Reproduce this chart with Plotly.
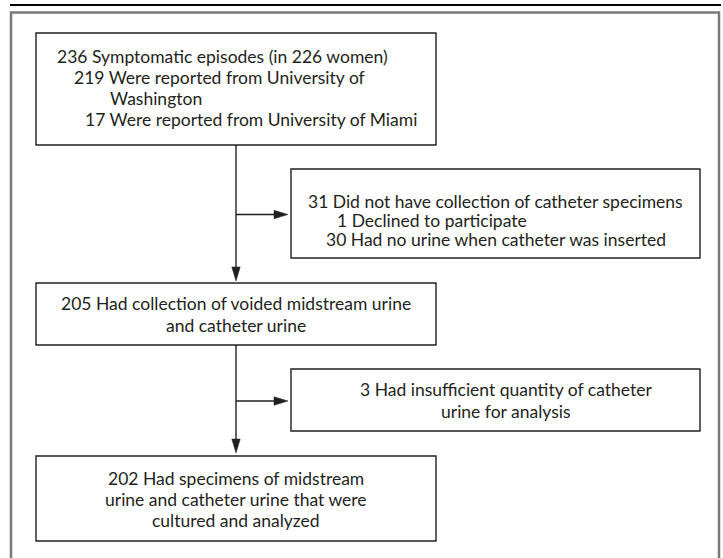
import plotly.graph_objects as go

# ---- data (texts of the flow diagram) ----
box1_lines = [
    "236 Symptomatic episodes (in 226 women)",
    "219 Were reported from University of",
    "Washington",
    "17 Were reported from University of Miami",
]
box2_lines = [
    "205 Had collection of voided midstream urine",
    "and catheter urine",
]
box3_lines = [
    "31 Did not have collection of catheter specimens",
    "1 Declined to participate",
    "30 Had no urine when catheter was inserted",
]
box4_lines = [
    "3 Had insufficient quantity of catheter",
    "urine for analysis",
]
box5_lines = [
    "202 Had specimens of midstream",
    "urine and catheter urine that were",
    "cultured and analyzed",
]

# ---- layout geometry (pixel coordinates on a 723x558 canvas) ----
W, H = 723, 558
FONT = dict(family="Lato, 'Open Sans', sans-serif", size=17.5, color="#231f20")
LINE = "#231f20"
LW = 1.4

boxes = [
    (36, 33, 436, 145),    # box1
    (36, 283, 436, 345),   # box2
    (291, 169, 700, 258),  # box3
    (291, 369, 700, 431),  # box4
    (36, 456, 436, 541),   # box5
]

fig = go.Figure()
fig.add_trace(go.Scatter(x=[0, W], y=[0, H], mode="markers",
                         marker=dict(opacity=0), hoverinfo="skip", showlegend=False))

shapes = []
shapes.append(dict(type="line", x0=10, x1=721, y0=5, y1=5,
                   line=dict(color="#000000", width=2)))
shapes.append(dict(type="path", path="M 11,565 L 11,12.5 L 719,12.5 L 719,565",
                   line=dict(color="#7a7a7a", width=2.5)))
for (x0, y0, x1, y1) in boxes:
    shapes.append(dict(type="rect", x0=x0, y0=y0, x1=x1, y1=y1,
                       line=dict(color=LINE, width=LW), fillcolor="white"))

CX = 236
shapes.append(dict(type="line", x0=CX, x1=CX, y0=145, y1=272, line=dict(color=LINE, width=LW)))
shapes.append(dict(type="line", x0=CX, x1=CX, y0=345, y1=444, line=dict(color=LINE, width=LW)))
for yb in (214.5, 401):
    shapes.append(dict(type="line", x0=CX, x1=278, y0=yb, y1=yb, line=dict(color=LINE, width=LW)))
    tip = 288
    shapes.append(dict(type="path",
                       path=f"M {tip},{yb} L {tip-14},{yb-4.2} L {tip-14},{yb+4.2} Z",
                       fillcolor=LINE, line=dict(color=LINE, width=0.5)))
for tipy in (281, 453):
    shapes.append(dict(type="path",
                       path=f"M {CX},{tipy} L {CX-4.2},{tipy-14} L {CX+4.2},{tipy-14} Z",
                       fillcolor=LINE, line=dict(color=LINE, width=0.5)))

annotations = []

def add_text(text, x, y, anchor="left"):
    annotations.append(dict(text=text, x=x, y=y, xref="x", yref="y",
                            xanchor=anchor, yanchor="middle", showarrow=False,
                            font=FONT))

for t, x, y in zip(box1_lines, [55, 71.5, 108, 83], [56, 77, 98, 119]):
    add_text(t, x, y)
for t, y in zip(box2_lines, [303, 325]):
    add_text(t, CX, y, "center")
for t, x, y in zip(box3_lines, [306, 335, 324], [201, 220, 239]):
    add_text(t, x, y)
for t, y in zip(box4_lines, [389, 411]):
    add_text(t, 506, y, "center")
for t, y in zip(box5_lines, [478, 499, 520]):
    add_text(t, CX, y, "center")

fig.update_layout(
    width=W, height=H,
    margin=dict(l=0, r=0, t=0, b=0),
    paper_bgcolor="white", plot_bgcolor="white",
    shapes=shapes, annotations=annotations,
    xaxis=dict(range=[0, W], visible=False, fixedrange=True),
    yaxis=dict(range=[H, 0], visible=False, fixedrange=True),
    showlegend=False,
)
fig.write_html("out.html",
               config={"displayModeBar": False, "staticPlot": True},
               post_script="document.body.style.margin='0';document.body.style.overflow='hidden';")
